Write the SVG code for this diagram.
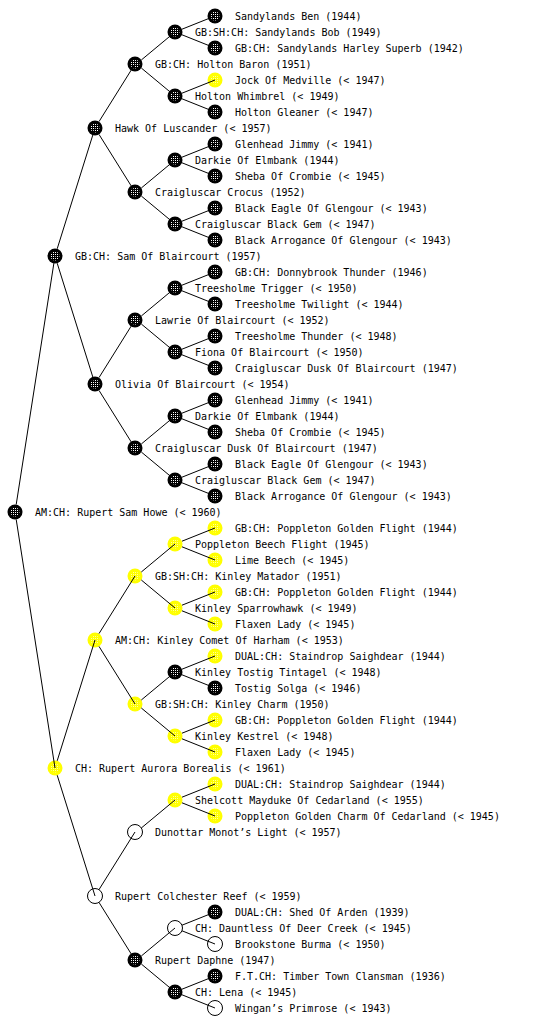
<svg xmlns="http://www.w3.org/2000/svg" xmlns:xlink="http://www.w3.org/1999/xlink" width="560" height="1024" viewBox="0 0 560 1024">
<style>
text{font-family:"DejaVu Sans Mono","Liberation Mono",monospace;font-size:10px;fill:#000}
.c line{stroke:#000;stroke-width:1}
</style>
<defs>
<pattern id="pw" width="2" height="2" patternUnits="userSpaceOnUse"><rect width="1" height="1" fill="#fff"/></pattern>
<pattern id="py" width="2" height="2" patternUnits="userSpaceOnUse"><rect width="1" height="1" fill="#ffffa0"/></pattern>
<g id="nb"><circle r="7.5" fill="#000"/><circle r="4.5" fill="url(#pw)"/></g>
<g id="ny"><circle r="7.5" fill="#ffff00"/><circle r="4.5" fill="url(#py)"/></g>
<g id="ne"><circle r="7.5" fill="#fff" stroke="#000" stroke-width="1"/></g>
</defs>
<rect width="560" height="1024" fill="#fff"/>

<g id="n0"><use href="#nb" x="15" y="512"/><text x="35" y="516">AM:CH: Rupert Sam Howe (&lt; 1960)</text></g>
<g id="n1"><use href="#nb" x="55" y="256"/><text x="75" y="260">GB:CH: Sam Of Blaircourt (1957)</text></g>
<g id="n2"><use href="#ny" x="55" y="768"/><text x="75" y="772">CH: Rupert Aurora Borealis (&lt; 1961)</text></g>
<g id="n3"><use href="#nb" x="95" y="128"/><text x="115" y="132">Hawk Of Luscander (&lt; 1957)</text></g>
<g id="n4"><use href="#nb" x="95" y="384"/><text x="115" y="388">Olivia Of Blaircourt (&lt; 1954)</text></g>
<g id="n5"><use href="#ny" x="95" y="640"/><text x="115" y="644">AM:CH: Kinley Comet Of Harham (&lt; 1953)</text></g>
<g id="n6"><use href="#ne" x="95" y="896"/><text x="115" y="900">Rupert Colchester Reef (&lt; 1959)</text></g>
<g id="n7"><use href="#nb" x="135" y="64"/><text x="155" y="68">GB:CH: Holton Baron (1951)</text></g>
<g id="n8"><use href="#nb" x="135" y="192"/><text x="155" y="196">Craigluscar Crocus (1952)</text></g>
<g id="n9"><use href="#nb" x="135" y="320"/><text x="155" y="324">Lawrie Of Blaircourt (&lt; 1952)</text></g>
<g id="n10"><use href="#nb" x="135" y="448"/><text x="155" y="452">Craigluscar Dusk Of Blaircourt (1947)</text></g>
<g id="n11"><use href="#ny" x="135" y="576"/><text x="155" y="580">GB:SH:CH: Kinley Matador (1951)</text></g>
<g id="n12"><use href="#ny" x="135" y="704"/><text x="155" y="708">GB:SH:CH: Kinley Charm (1950)</text></g>
<g id="n13"><use href="#ne" x="135" y="832"/><text x="155" y="836">Dunottar Monot’s Light (&lt; 1957)</text></g>
<g id="n14"><use href="#nb" x="135" y="960"/><text x="155" y="964">Rupert Daphne (1947)</text></g>
<g id="n15"><use href="#nb" x="175" y="32"/><text x="195" y="36">GB:SH:CH: Sandylands Bob (1949)</text></g>
<g id="n16"><use href="#nb" x="175" y="96"/><text x="195" y="100">Holton Whimbrel (&lt; 1949)</text></g>
<g id="n17"><use href="#nb" x="175" y="160"/><text x="195" y="164">Darkie Of Elmbank (1944)</text></g>
<g id="n18"><use href="#nb" x="175" y="224"/><text x="195" y="228">Craigluscar Black Gem (&lt; 1947)</text></g>
<g id="n19"><use href="#nb" x="175" y="288"/><text x="195" y="292">Treesholme Trigger (&lt; 1950)</text></g>
<g id="n20"><use href="#nb" x="175" y="352"/><text x="195" y="356">Fiona Of Blaircourt (&lt; 1950)</text></g>
<g id="n21"><use href="#nb" x="175" y="416"/><text x="195" y="420">Darkie Of Elmbank (1944)</text></g>
<g id="n22"><use href="#nb" x="175" y="480"/><text x="195" y="484">Craigluscar Black Gem (&lt; 1947)</text></g>
<g id="n23"><use href="#ny" x="175" y="544"/><text x="195" y="548">Poppleton Beech Flight (1945)</text></g>
<g id="n24"><use href="#ny" x="175" y="608"/><text x="195" y="612">Kinley Sparrowhawk (&lt; 1949)</text></g>
<g id="n25"><use href="#nb" x="175" y="672"/><text x="195" y="676">Kinley Tostig Tintagel (&lt; 1948)</text></g>
<g id="n26"><use href="#ny" x="175" y="736"/><text x="195" y="740">Kinley Kestrel (&lt; 1948)</text></g>
<g id="n27"><use href="#ny" x="175" y="800"/><text x="195" y="804">Shelcott Mayduke Of Cedarland (&lt; 1955)</text></g>
<g id="n28"><use href="#ne" x="175" y="928"/><text x="195" y="932">CH: Dauntless Of Deer Creek (&lt; 1945)</text></g>
<g id="n29"><use href="#nb" x="175" y="992"/><text x="195" y="996">CH: Lena (&lt; 1945)</text></g>
<g id="n30"><use href="#nb" x="215" y="16"/><text x="235" y="20">Sandylands Ben (1944)</text></g>
<g id="n31"><use href="#nb" x="215" y="48"/><text x="235" y="52">GB:CH: Sandylands Harley Superb (1942)</text></g>
<g id="n32"><use href="#ny" x="215" y="80"/><text x="235" y="84">Jock Of Medville (&lt; 1947)</text></g>
<g id="n33"><use href="#nb" x="215" y="112"/><text x="235" y="116">Holton Gleaner (&lt; 1947)</text></g>
<g id="n34"><use href="#nb" x="215" y="144"/><text x="235" y="148">Glenhead Jimmy (&lt; 1941)</text></g>
<g id="n35"><use href="#nb" x="215" y="176"/><text x="235" y="180">Sheba Of Crombie (&lt; 1945)</text></g>
<g id="n36"><use href="#nb" x="215" y="208"/><text x="235" y="212">Black Eagle Of Glengour (&lt; 1943)</text></g>
<g id="n37"><use href="#nb" x="215" y="240"/><text x="235" y="244">Black Arrogance Of Glengour (&lt; 1943)</text></g>
<g id="n38"><use href="#nb" x="215" y="272"/><text x="235" y="276">GB:CH: Donnybrook Thunder (1946)</text></g>
<g id="n39"><use href="#nb" x="215" y="304"/><text x="235" y="308">Treesholme Twilight (&lt; 1944)</text></g>
<g id="n40"><use href="#nb" x="215" y="336"/><text x="235" y="340">Treesholme Thunder (&lt; 1948)</text></g>
<g id="n41"><use href="#nb" x="215" y="368"/><text x="235" y="372">Craigluscar Dusk Of Blaircourt (1947)</text></g>
<g id="n42"><use href="#nb" x="215" y="400"/><text x="235" y="404">Glenhead Jimmy (&lt; 1941)</text></g>
<g id="n43"><use href="#nb" x="215" y="432"/><text x="235" y="436">Sheba Of Crombie (&lt; 1945)</text></g>
<g id="n44"><use href="#nb" x="215" y="464"/><text x="235" y="468">Black Eagle Of Glengour (&lt; 1943)</text></g>
<g id="n45"><use href="#nb" x="215" y="496"/><text x="235" y="500">Black Arrogance Of Glengour (&lt; 1943)</text></g>
<g id="n46"><use href="#ny" x="215" y="528"/><text x="235" y="532">GB:CH: Poppleton Golden Flight (1944)</text></g>
<g id="n47"><use href="#ny" x="215" y="560"/><text x="235" y="564">Lime Beech (&lt; 1945)</text></g>
<g id="n48"><use href="#ny" x="215" y="592"/><text x="235" y="596">GB:CH: Poppleton Golden Flight (1944)</text></g>
<g id="n49"><use href="#ny" x="215" y="624"/><text x="235" y="628">Flaxen Lady (&lt; 1945)</text></g>
<g id="n50"><use href="#ny" x="215" y="656"/><text x="235" y="660">DUAL:CH: Staindrop Saighdear (1944)</text></g>
<g id="n51"><use href="#nb" x="215" y="688"/><text x="235" y="692">Tostig Solga (&lt; 1946)</text></g>
<g id="n52"><use href="#ny" x="215" y="720"/><text x="235" y="724">GB:CH: Poppleton Golden Flight (1944)</text></g>
<g id="n53"><use href="#ny" x="215" y="752"/><text x="235" y="756">Flaxen Lady (&lt; 1945)</text></g>
<g id="n54"><use href="#ny" x="215" y="784"/><text x="235" y="788">DUAL:CH: Staindrop Saighdear (1944)</text></g>
<g id="n55"><use href="#ny" x="215" y="816"/><text x="235" y="820">Poppleton Golden Charm Of Cedarland (&lt; 1945)</text></g>
<g id="n56"><use href="#nb" x="215" y="912"/><text x="235" y="916">DUAL:CH: Shed Of Arden (1939)</text></g>
<g id="n57"><use href="#ne" x="215" y="944"/><text x="235" y="948">Brookstone Burma (&lt; 1950)</text></g>
<g id="n58"><use href="#nb" x="215" y="976"/><text x="235" y="980">F.T.CH: Timber Town Clansman (1936)</text></g>
<g id="n59"><use href="#ne" x="215" y="1008"/><text x="235" y="1012">Wingan’s Primrose (&lt; 1943)</text></g>

<g id="connectors" class="c">
<!-- level 0 to 1 (dy=256, dx=40) -->
<line x1="16.2" y1="504.6" x2="55" y2="256"/>
<line x1="16.2" y1="519.4" x2="55" y2="768"/>
<!-- level 1 to 2 (dy=128, dx=40) -->
<line x1="57.2" y1="248.8" x2="95" y2="128"/>
<line x1="57.2" y1="263.2" x2="95" y2="384"/>
<line x1="57.2" y1="760.8" x2="95" y2="640"/>
<line x1="57.2" y1="775.2" x2="95" y2="896"/>
<!-- level 2 to 3 (dy=64, dx=40) -->
<line x1="99" y1="121.6" x2="135" y2="64"/>
<line x1="99" y1="134.4" x2="135" y2="192"/>
<line x1="99" y1="377.6" x2="135" y2="320"/>
<line x1="99" y1="390.4" x2="135" y2="448"/>
<line x1="99" y1="633.6" x2="135" y2="576"/>
<line x1="99" y1="646.4" x2="135" y2="704"/>
<line x1="99" y1="889.6" x2="135" y2="832"/>
<line x1="99" y1="902.4" x2="135" y2="960"/>
<!-- level 3 to 4 (dy=32, dx=40) -->
<line x1="141.3" y1="60" x2="175" y2="32"/>
<line x1="141.3" y1="68" x2="175" y2="96"/>
<line x1="141.3" y1="188" x2="175" y2="160"/>
<line x1="141.3" y1="196" x2="175" y2="224"/>
<line x1="141.3" y1="316" x2="175" y2="288"/>
<line x1="141.3" y1="324" x2="175" y2="352"/>
<line x1="141.3" y1="444" x2="175" y2="416"/>
<line x1="141.3" y1="452" x2="175" y2="480"/>
<line x1="141.3" y1="572" x2="175" y2="544"/>
<line x1="141.3" y1="580" x2="175" y2="608"/>
<line x1="141.3" y1="700" x2="175" y2="672"/>
<line x1="141.3" y1="708" x2="175" y2="736"/>
<line x1="141.3" y1="828" x2="175" y2="800"/>
<line x1="141.3" y1="956" x2="175" y2="928"/>
<line x1="141.3" y1="964" x2="175" y2="992"/>
<!-- level 4 to 5 (dy=16, dx=40) -->
<line x1="182" y1="29.2" x2="215" y2="16"/>
<line x1="182" y1="34.8" x2="215" y2="48"/>
<line x1="182" y1="93.2" x2="215" y2="80"/>
<line x1="182" y1="98.8" x2="215" y2="112"/>
<line x1="182" y1="157.2" x2="215" y2="144"/>
<line x1="182" y1="162.8" x2="215" y2="176"/>
<line x1="182" y1="221.2" x2="215" y2="208"/>
<line x1="182" y1="226.8" x2="215" y2="240"/>
<line x1="182" y1="285.2" x2="215" y2="272"/>
<line x1="182" y1="290.8" x2="215" y2="304"/>
<line x1="182" y1="349.2" x2="215" y2="336"/>
<line x1="182" y1="354.8" x2="215" y2="368"/>
<line x1="182" y1="413.2" x2="215" y2="400"/>
<line x1="182" y1="418.8" x2="215" y2="432"/>
<line x1="182" y1="477.2" x2="215" y2="464"/>
<line x1="182" y1="482.8" x2="215" y2="496"/>
<line x1="182" y1="541.2" x2="215" y2="528"/>
<line x1="182" y1="546.8" x2="215" y2="560"/>
<line x1="182" y1="605.2" x2="215" y2="592"/>
<line x1="182" y1="610.8" x2="215" y2="624"/>
<line x1="182" y1="669.2" x2="215" y2="656"/>
<line x1="182" y1="674.8" x2="215" y2="688"/>
<line x1="182" y1="733.2" x2="215" y2="720"/>
<line x1="182" y1="738.8" x2="215" y2="752"/>
<line x1="182" y1="797.2" x2="215" y2="784"/>
<line x1="182" y1="802.8" x2="215" y2="816"/>
<line x1="182" y1="925.2" x2="215" y2="912"/>
<line x1="182" y1="930.8" x2="215" y2="944"/>
<line x1="182" y1="989.2" x2="215" y2="976"/>
<line x1="182" y1="994.8" x2="215" y2="1008"/>
</g>
</svg>
